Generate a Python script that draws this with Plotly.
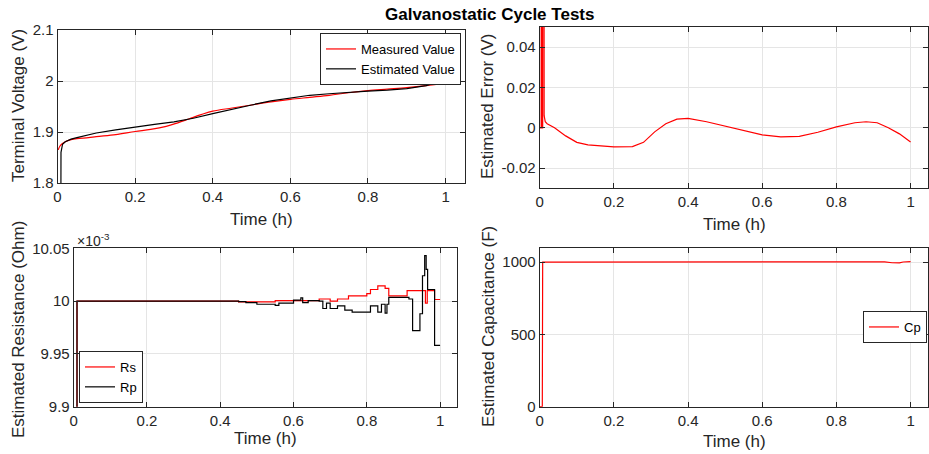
import plotly.graph_objects as go

W, H = 929, 454

# ---------------- data ----------------
t_meas = [0.002, 0.006, 0.012, 0.02, 0.035, 0.05, 0.08, 0.1, 0.15, 0.2, 0.24, 0.28, 0.31, 0.34, 0.37,
          0.4, 0.45, 0.5, 0.55, 0.6, 0.65, 0.7, 0.75, 0.8, 0.85, 0.9, 0.95, 1.0]
v_meas = [1.865, 1.872, 1.877, 1.881, 1.885, 1.887, 1.889, 1.891, 1.895, 1.901, 1.905, 1.911, 1.918, 1.926, 1.934,
          1.941, 1.947, 1.953, 1.959, 1.964, 1.968, 1.972, 1.977, 1.981, 1.984, 1.987, 1.991, 1.996]

t_est = [0.0, 0.008, 0.009, 0.011, 0.013, 0.02, 0.035, 0.05, 0.08, 0.1, 0.15, 0.2, 0.25, 0.3, 0.35,
         0.4, 0.45, 0.5, 0.55, 0.6, 0.65, 0.7, 0.75, 0.8, 0.85, 0.9, 0.95, 1.0]
v_est = [1.5, 1.5, 1.86, 1.872, 1.876, 1.881, 1.886, 1.889, 1.894, 1.898, 1.904, 1.910, 1.915, 1.920, 1.927,
         1.936, 1.945, 1.953, 1.961, 1.967, 1.972, 1.975, 1.978, 1.980, 1.982, 1.985, 1.991, 2.003]

t_err = [0.0, 0.004, 0.0045, 0.006, 0.0065, 0.008, 0.0085, 0.011, 0.012, 0.015, 0.02, 0.04, 0.07, 0.1, 0.13,
         0.16, 0.2, 0.25, 0.28, 0.31, 0.34, 0.37, 0.4, 0.45, 0.5, 0.55, 0.6, 0.65, 0.7, 0.75, 0.8, 0.85, 0.88,
         0.91, 0.94, 0.97, 1.0]
err = [0.0, 0.0, 0.3, 0.3, 0.0, 0.0, 0.3, 0.3, 0.006, 0.003, 0.002, 0.0, -0.004, -0.0072, -0.0085,
       -0.009, -0.0095, -0.0093, -0.0072, -0.002, 0.002, 0.0043, 0.0047, 0.003, 0.0008, -0.0015, -0.0035, -0.0045,
       -0.0042, -0.0022, 0.0005, 0.0025, 0.003, 0.0025, 0.0, -0.003, -0.007]

t_rs = [0.0, 0.009, 0.45, 0.55, 0.67, 0.70, 0.72, 0.75, 0.80, 0.81, 0.83, 0.85, 0.86, 0.91, 0.96, 0.965, 0.985, 1.0]
rs = [0.0, 10.0, 9.9992, 10.0005, 10.002, 10.0, 10.002, 10.005, 10.007, 10.011, 10.0145, 10.012, 10.005, 10.010,
      9.998, 10.010, 10.0015, 10.0015]

t_rp = [0.0, 0.009, 0.45, 0.47, 0.50, 0.55, 0.56, 0.60, 0.62, 0.625, 0.64, 0.67, 0.68, 0.69, 0.70, 0.72, 0.74,
        0.76, 0.81, 0.83, 0.84, 0.85, 0.855, 0.86, 0.915, 0.925, 0.945, 0.952, 0.958, 0.962, 0.966, 0.98, 0.985, 1.0]
rp = [0.0, 10.0, 9.9995, 9.9985, 9.997, 9.996, 9.998, 10.001, 10.003, 9.9985, 10.0005, 10.0, 9.993, 9.998, 9.993,
      9.9955, 9.9915, 9.9896, 9.9955, 9.9896, 9.997, 9.9887, 9.997, 10.0035, 10.002, 9.972, 9.988, 10.024,
      10.043, 10.030, 10.011, 10.011, 9.958, 9.958]

t_cp = [0.0, 0.007, 0.008, 0.3, 0.6, 0.9, 0.93, 0.95, 0.96, 0.97, 0.98, 0.99, 1.0]
cp = [0, 0, 1000, 1000, 1000, 999, 1002, 996, 993, 995, 1001, 1003, 1003]

# ---------------- figure ----------------
fig = go.Figure()
RED = "#ff0000"
BLK = "#000000"

fig.add_trace(go.Scatter(x=t_meas, y=v_meas, mode="lines", name="Measured Value",
                         line=dict(color=RED, width=1.2, shape="spline"), xaxis="x", yaxis="y", legend="legend"))
fig.add_trace(go.Scatter(x=t_est, y=v_est, mode="lines", name="Estimated Value",
                         line=dict(color=BLK, width=1.2), xaxis="x", yaxis="y", legend="legend"))
fig.add_trace(go.Scatter(x=t_err, y=err, mode="lines", name="Error", showlegend=False,
                         line=dict(color=RED, width=1.2), xaxis="x2", yaxis="y2"))
fig.add_trace(go.Scatter(x=t_rs, y=[v * 1e-3 for v in rs], mode="lines", name="Rs",
                         line=dict(color=RED, width=1.2, shape="hv"), xaxis="x3", yaxis="y3", legend="legend2"))
fig.add_trace(go.Scatter(x=t_rp, y=[v * 1e-3 for v in rp], mode="lines", name="Rp",
                         line=dict(color=BLK, width=1.2, shape="hv"), xaxis="x3", yaxis="y3", legend="legend2"))
fig.add_trace(go.Scatter(x=t_cp, y=cp, mode="lines", name="Cp",
                         line=dict(color=RED, width=1.2), xaxis="x4", yaxis="y4", legend="legend3"))

FONT = "Liberation Sans, Arial, sans-serif"
TXT = "#262626"

def px_x(p):
    return p / W

def px_y(p):
    return 1 - p / H

def axis(dom, rng, tickvals=None, ticktext=None, anchor=None):
    d = dict(domain=dom, range=rng, showline=True, linecolor=TXT, linewidth=1, mirror="ticks",
             ticks="inside", ticklen=5, tickcolor=TXT, showgrid=True, gridcolor="#e5e5e5", gridwidth=1,
             zeroline=False, automargin=False, tickfont=dict(family=FONT, size=15, color=TXT), anchor=anchor)
    if tickvals is not None:
        d["tickvals"] = tickvals
    if ticktext is not None:
        d["ticktext"] = ticktext
    return d

xt = [0, 0.2, 0.4, 0.6, 0.8, 1]
xtt = ["0", "0.2", "0.4", "0.6", "0.8", "1"]

def leg(size=14, **kw):
    d = dict(bgcolor="white", bordercolor=TXT, borderwidth=1, font=dict(family=FONT, size=size, color="#000"),
             tracegroupgap=0, itemwidth=30)
    d.update(kw)
    return d

fig.update_layout(
    template="none",
    width=W, height=H, margin=dict(l=0, r=0, t=0, b=0, autoexpand=False),
    paper_bgcolor="white", plot_bgcolor="white",
    font=dict(family=FONT, color=TXT),
    xaxis=axis([px_x(57.5), px_x(465)], [0, 1.05], xt, xtt, "y"),
    yaxis=axis([px_y(183), px_y(30)], [1.8, 2.1], [1.8, 1.9, 2.0, 2.1], ["1.8", "1.9", "2", "2.1"], "x"),
    xaxis2=axis([px_x(539.7), px_x(928)], [0, 1.047], xt, xtt, "y2"),
    yaxis2=axis([px_y(188.3), px_y(27)], [-0.03, 0.05], [-0.02, 0, 0.02, 0.04], ["-0.02", "0", "0.02", "0.04"], "x2"),
    xaxis3=axis([px_x(73.7), px_x(457.3)], [0, 1.047], xt, xtt, "y3"),
    yaxis3=axis([px_y(406.7), px_y(248.3)], [0.0099, 0.01005], [0.0099, 0.00995, 0.01, 0.01005],
                ["9.9", "9.95", "10", "10.05"], "x3"),
    xaxis4=axis([px_x(539.7), px_x(928)], [0, 1.047], xt, xtt, "y4"),
    yaxis4=axis([px_y(406.7), px_y(247.7)], [0, 1100], [0, 500, 1000], ["0", "500", "1000"], "x4"),
    legend=leg(13, x=px_x(461), y=px_y(33), xanchor="right", yanchor="top"),
    legend2=leg(13, x=px_x(79), y=px_y(403), xanchor="left", yanchor="bottom"),
    legend3=leg(13, x=px_x(927), y=px_y(327), xanchor="right", yanchor="middle"),
)

ann = []
ann.append(dict(text="<b>Galvanostatic Cycle Tests</b>", x=px_x(489), y=px_y(14), xref="paper", yref="paper",
                showarrow=False, font=dict(family=FONT, size=17, color="#000"), xanchor="center", yanchor="middle"))
for (cx, cy) in [(261, 219), (734, 224), (265, 438), (734, 441)]:
    ann.append(dict(text="Time (h)", x=px_x(cx), y=px_y(cy), xref="paper", yref="paper", showarrow=False,
                    font=dict(family=FONT, size=17, color=TXT), xanchor="center", yanchor="middle"))
for (txt, cx, cy) in [("Terminal Voltage (V)", 18, 106), ("Estimated Error (V)", 488, 107),
                      ("Estimated Resistance (Ohm)", 18, 330), ("Estimated Capacitance (F)", 488, 327)]:
    ann.append(dict(text=txt, x=px_x(cx), y=px_y(cy), xref="paper", yref="paper", showarrow=False, textangle=-90,
                    font=dict(family=FONT, size=17, color=TXT), xanchor="center", yanchor="middle"))
ann.append(dict(text="×10<sup>-3</sup>", x=px_x(75), y=px_y(240), xref="paper", yref="paper", showarrow=False,
                font=dict(family=FONT, size=14, color=TXT), xanchor="left", yanchor="middle"))
fig.update_layout(annotations=ann)

fig.write_html("out.html", config={"displayModeBar": False},
               post_script="document.body.style.margin='0';document.body.style.overflow='hidden';")
